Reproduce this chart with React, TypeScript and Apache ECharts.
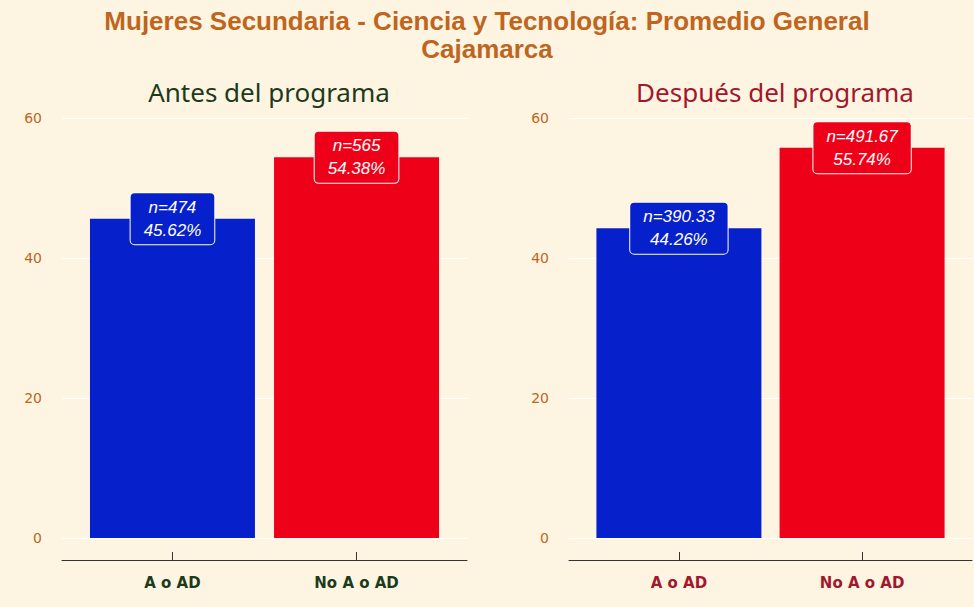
import React, { useEffect, useRef } from "react";
import * as echarts from "echarts";

const categories = ["A o AD", "No A o AD"];
const antesPct = [45.62, 54.38];
const antesN = ["474", "565"];
const despuesPct = [44.26, 55.74];
const despuesN = ["390.33", "491.67"];
const yTicks = [0, 20, 40, 60];
const barColors = ["#0620CC", "#EE0019"];

const BG = "#FDF5E2";
const ORANGE = "#C0651E";
const GREEN = "#1D3B1A";
const DARKRED = "#A3172C";

function makeSeries(pcts: number[], ns: string[], idx: number) {
  return {
    type: "bar",
    xAxisIndex: idx,
    yAxisIndex: idx,
    barWidth: 165,
    data: pcts.map((v, i) => ({
      value: [i + 1, v],
      itemStyle: { color: barColors[i] },
      label: {
        show: true,
        position: ["50%", 0],
        align: "center",
        verticalAlign: "middle",
        formatter: "n=" + ns[i] + "\n" + v.toFixed(2) + "%",
        color: "#FFFFFF",
        fontStyle: "italic",
        fontFamily: "Liberation Sans",
        fontSize: 17,
        lineHeight: 23,
        backgroundColor: barColors[i],
        borderColor: "#FFFFFF",
        borderWidth: 1,
        borderRadius: 4,
        padding: [3, 13, 2, 13],
      },
    })),
  };
}

function xAxisCfg(idx: number, color: string) {
  return {
    type: "value",
    gridIndex: idx,
    min: 0.4,
    max: 2.6,
    position: "bottom",
    offset: 22,
    axisLine: { show: true, onZero: false, lineStyle: { color: "#333333", width: 1 } },
    axisTick: { show: true, inside: true, length: 8, customValues: [1, 2], lineStyle: { color: "#333333" } },
    axisLabel: {
      show: true,
      customValues: [1, 2],
      formatter: (v: number) => categories[Math.round(v) - 1] ?? "",
      color,
      fontFamily: "DejaVu Sans",
      fontSize: 15,
      fontWeight: "bold",
      margin: 15,
    },
    splitLine: { show: false },
  };
}

function yAxisCfg(idx: number) {
  return {
    type: "value",
    gridIndex: idx,
    min: 0,
    max: 60,
    interval: 20,
    axisLine: { show: false },
    axisTick: { show: false },
    axisLabel: {
      color: ORANGE,
      fontFamily: "DejaVu Sans",
      fontSize: 14,
      margin: 20,
      formatter: (v: number) => (yTicks.includes(v) ? String(v) : ""),
    },
    splitLine: { show: true, lineStyle: { color: "#FFFFFF", width: 1.2 } },
  };
}

export default function App() {
  const ref = useRef<HTMLDivElement>(null);
  useEffect(() => {
    document.body.style.margin = "0";
    const chart = echarts.init(ref.current!, null, { renderer: "svg" });
    chart.setOption({
      animation: false,
      backgroundColor: BG,
      title: [
        {
          text: "Mujeres Secundaria - Ciencia y Tecnología: Promedio General\nCajamarca",
          left: "center",
          top: 2,
          textStyle: {
            color: ORANGE,
            fontFamily: "Liberation Sans",
            fontWeight: "bold",
            fontSize: 26,
            lineHeight: 28,
            align: "center",
          },
        },
        {
          text: "Antes del programa",
          left: 264,
          top: 74,
          textAlign: "center",
          textStyle: { color: GREEN, fontFamily: "Noto Sans", fontWeight: "normal", fontSize: 26 },
        },
        {
          text: "Después del programa",
          left: 770,
          top: 74,
          textAlign: "center",
          textStyle: { color: DARKRED, fontFamily: "Noto Sans", fontWeight: "normal", fontSize: 26 },
        },
      ],
      grid: [
        { left: 62, right: 507, top: 118, bottom: 69 },
        { left: 569, right: 2, top: 118, bottom: 69 },
      ],
      xAxis: [xAxisCfg(0, GREEN), xAxisCfg(1, DARKRED)],
      yAxis: [yAxisCfg(0), yAxisCfg(1)],
      series: [makeSeries(antesPct, antesN, 0), makeSeries(despuesPct, despuesN, 1)],
    });
    return () => chart.dispose();
  }, []);
  return <div ref={ref} style={{ width: 974, height: 607 }} />;
}
